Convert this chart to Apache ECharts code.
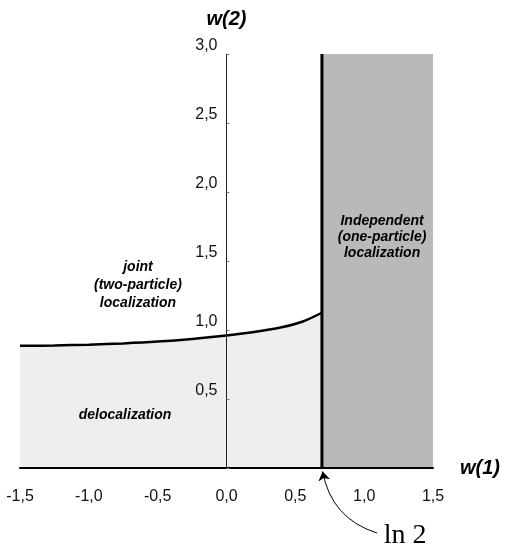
<!DOCTYPE html>
<html>
<head>
<meta charset="utf-8">
<script src="https://cdn.jsdelivr.net/npm/echarts@6/dist/echarts.min.js"></script>
<style>
  html, body { margin: 0; padding: 0; background: #fff; }
  #chart { width: 509px; height: 552px; }
</style>
</head>
<body>
<div id="chart"></div>
<script>
// phase boundary w(2) against w(1)
const LN2 = Math.log(2)
const boundaryW1 = [-1.5, -1.25, -1.0, -0.75, -0.5, -0.25, 0, 0.2, 0.4, 0.55, LN2]
const boundaryW2 = [0.885, 0.888, 0.894, 0.903, 0.916, 0.935, 0.96, 0.985, 1.02, 1.06, 1.125]
const w1Range = [-1.5, 1.5]
const w2Range = [0, 3]
const tickStep = 0.5

const sans = 'Liberation Sans, Arial, Helvetica, sans-serif'
const fmt = v => v.toFixed(1).replace('.', ',')

const W = 509
const gridLeft = 20
const gridRight = 76
// put the w(2) axis (and its labels) at w(1) = 0
const plotW = W - gridLeft - gridRight
const zeroOffset = -plotW * (0 - w1Range[0]) / (w1Range[1] - w1Range[0])

const chart = echarts.init(document.getElementById('chart'))

chart.setOption({
  animation: false,
  backgroundColor: '#fff',
  grid: {
    left: gridLeft, right: gridRight, top: 54, bottom: 84,
    containLabel: false, outerBoundsMode: 'none'
  },
  xAxis: {
    type: 'value',
    min: w1Range[0],
    max: w1Range[1],
    interval: tickStep,
    name: 'w(1)',
    nameLocation: 'end',
    nameGap: 27,
    nameTextStyle: {
      fontFamily: sans, fontSize: 20, fontWeight: 'bold', fontStyle: 'italic',
      color: '#000', padding: [12, 0, 0, 0]
    },
    axisLine: { onZero: false, lineStyle: { color: '#000', width: 2 } },
    axisTick: { show: false },
    axisLabel: { formatter: fmt, color: '#111', fontSize: 16, margin: 21, fontFamily: sans },
    splitLine: { show: false },
    z: 10
  },
  yAxis: {
    type: 'value',
    position: 'left',
    offset: zeroOffset,
    min: w2Range[0],
    max: w2Range[1],
    interval: tickStep,
    name: 'w(2)',
    nameLocation: 'end',
    nameGap: 25,
    nameTextStyle: {
      fontFamily: sans, fontSize: 20, fontWeight: 'bold', fontStyle: 'italic', color: '#000'
    },
    axisLine: { onZero: false, lineStyle: { color: '#222', width: 1 } },
    axisTick: { show: true, inside: true, length: 3, lineStyle: { color: '#777' } },
    axisLabel: {
      formatter: v => (v === 0 ? '' : fmt(v)),
      color: '#111', fontSize: 16, margin: 9, fontFamily: sans, verticalAlign: 'bottom'
    },
    splitLine: { show: false },
    z: 10
  },
  series: [
    {
      // independent localization region, ln2 < w(1)
      type: 'line',
      data: [[LN2, w2Range[1]], [w1Range[1], w2Range[1]]],
      symbol: 'none',
      lineStyle: { width: 0 },
      areaStyle: { color: '#b9b9b9', opacity: 1 },
      z: 1
    },
    {
      // delocalization region under the boundary curve
      type: 'line',
      data: boundaryW1.map((x, i) => [x, boundaryW2[i]]),
      smooth: 0.3,
      symbol: 'none',
      lineStyle: { color: '#000', width: 2.5 },
      areaStyle: { color: '#eeeeee', opacity: 1 },
      z: 2
    },
    {
      type: 'line',
      data: [[LN2, w2Range[0]], [LN2, w2Range[1]]],
      symbol: 'none',
      lineStyle: { color: '#000', width: 3 },
      z: 3
    },
    {
      // arrow pointing at ln 2
      type: 'lines',
      coordinateSystem: 'cartesian2d',
      clip: false,
      data: [{ coords: [[1.093, -0.471], [LN2 + 0.005, -0.025]] }],
      symbol: ['none', 'arrow'],
      symbolSize: 9,
      lineStyle: { color: '#000', width: 1, curveness: 0.3, opacity: 1 },
      z: 4
    }
  ]
})

const at = (x, y) => chart.convertToPixel({ gridIndex: 0 }, [x, y])
function note(x, y, text, extra) {
  const p = at(x, y)
  return {
    type: 'text',
    x: p[0],
    y: p[1],
    z: 20,
    style: Object.assign({
      text,
      fontFamily: sans,
      fontSize: 14,
      fontWeight: 'bold',
      fontStyle: 'italic',
      fill: '#000',
      align: 'center',
      verticalAlign: 'middle',
      lineHeight: 18
    }, extra || {})
  }
}

chart.setOption({
  graphic: [
    note(-0.643, 1.326, 'joint\n(two-particle)\nlocalization'),
    note(-0.737, 0.384, 'delocalization'),
    note(1.13, 1.674, 'Independent\n(one-particle)\nlocalization', { lineHeight: 16 }),
    note(1.297, -0.493, 'ln 2', {
      fontFamily: 'Liberation Serif, Times New Roman, serif',
      fontSize: 28, fontWeight: 'normal', fontStyle: 'normal'
    })
  ]
})
</script>
</body>
</html>
